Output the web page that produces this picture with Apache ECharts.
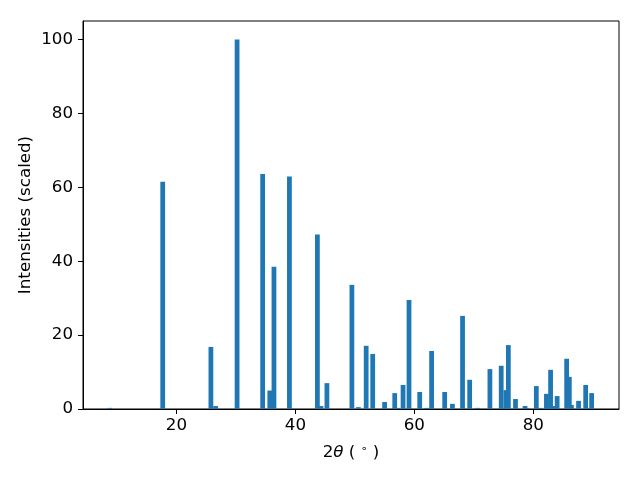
<!DOCTYPE html>
<html>
<head>
<meta charset="utf-8">
<script src="https://cdn.jsdelivr.net/npm/echarts@6/dist/echarts.min.js"></script>
<style>html,body{margin:0;padding:0;background:#fff}#c{width:640px;height:480px}</style>
</head>
<body>
<div id="c"></div>
<script>
const twoTheta = [8.8, 17.7, 25.8, 26.6, 30.2, 34.5, 35.7, 36.4, 39.0, 43.7, 44.3, 45.3, 49.5, 50.6, 51.9, 53.0, 55.0, 56.7, 57.2, 58.1, 59.1, 60.9, 62.1, 62.9, 65.1, 66.4, 68.1, 69.3, 70.6, 72.7, 74.6, 75.4, 75.8, 77.0, 78.6, 78.9, 80.5, 81.2, 82.2, 82.9, 83.4, 84.0, 85.6, 86.05, 86.4, 87.6, 88.8, 89.2, 89.8];
const intensity = [0.3, 61.5, 16.8, 0.8, 100, 63.6, 5.0, 38.5, 62.9, 47.2, 0.8, 7.0, 33.6, 0.5, 17.1, 14.9, 1.9, 4.3, 0.3, 6.5, 29.5, 4.6, 0.3, 15.7, 4.6, 1.4, 25.2, 7.9, 0.3, 10.8, 11.7, 5.1, 17.3, 2.7, 0.8, 0.3, 6.2, 0.3, 4.1, 10.6, 0.8, 3.5, 13.6, 8.7, 1.1, 2.2, 6.5, 0.3, 4.3];
const xTicks = [20, 40, 60, 80];
const yTicks = [0, 20, 40, 60, 80, 100];
const barWidthUnits = 0.8;

const chart = echarts.init(document.getElementById('c'), null, {renderer: 'canvas'});
const font = 'DejaVu Sans';
const fs = 16.7;
chart.setOption({
  animation: false,
  backgroundColor: '#fff',
  grid: {left: 83, right: 21, top: 21, bottom: 71, show: true, borderColor: '#000', borderWidth: 1},
  xAxis: {
    type: 'value', min: 4.3, max: 94.4,
    name: '{n|2}{i|θ}{n| ( }{s|∘}{n| )}', nameLocation: 'middle', nameGap: 35,
    nameMoveOverlap: false,
    nameTextStyle: {rich: {
      n: {fontFamily: font, fontSize: fs, color: '#000'},
      i: {fontFamily: font, fontSize: fs, fontStyle: 'italic', color: '#000'},
      s: {fontFamily: font, fontSize: 11, color: '#000', verticalAlign: 'bottom', padding: [0,0,7,0]}
    }},
    splitLine: {show: false},
    axisLine: {show: true, onZero: false, lineStyle: {color: '#000', width: 1}},
    axisTick: {show: true, length: 5, lineStyle: {color: '#000'}, customValues: xTicks},
    axisLabel: {fontFamily: font, fontSize: fs, color: '#000', margin: 8, customValues: xTicks}
  },
  yAxis: {
    type: 'value', min: 0, max: 105,
    name: 'Intensities (scaled)', nameLocation: 'middle', nameGap: 49,
    nameMoveOverlap: false,
    nameTextStyle: {fontFamily: font, fontSize: fs, color: '#000'},
    splitLine: {show: false},
    axisLine: {show: true, lineStyle: {color: '#000', width: 1}},
    axisTick: {show: true, length: 5, lineStyle: {color: '#000'}, customValues: yTicks},
    axisLabel: {fontFamily: font, fontSize: fs, color: '#000', margin: 10, customValues: yTicks}
  },
  series: [{
    type: 'custom',
    data: twoTheta.map((x, i) => [x, intensity[i]]),
    encode: {x: 0, y: 1},
    clip: true,
    renderItem: function (params, api) {
      const x = api.value(0), y = api.value(1);
      const top = api.coord([x, y]);
      const base = api.coord([x, 0]);
      const w = api.size([barWidthUnits, 0])[0];
      return {type: 'rect', shape: {x: top[0] - w / 2, y: top[1], width: w, height: base[1] - top[1]},
        style: {fill: '#1f77b4'}};
    }
  }]
});
</script>
</body>
</html>
